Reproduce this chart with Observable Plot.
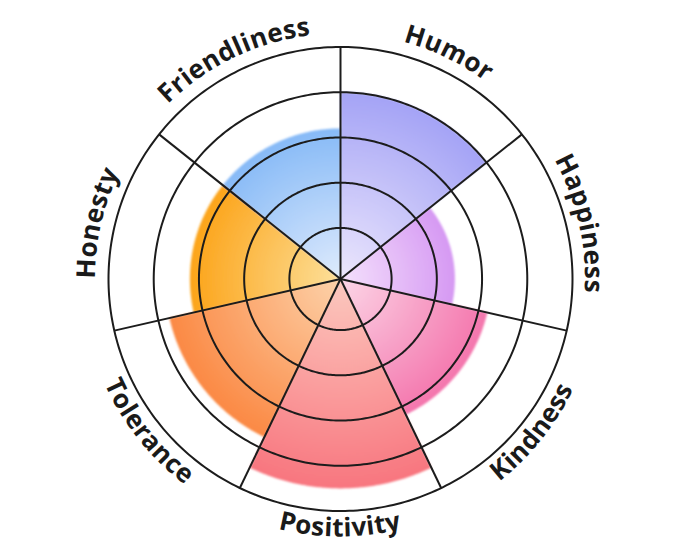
<!DOCTYPE html>
<html><head><meta charset="utf-8">
<script src="https://cdn.jsdelivr.net/npm/d3@7"></script>
<script src="https://cdn.jsdelivr.net/npm/@observablehq/plot@0.6"></script>
<style>
html,body{margin:0;padding:0;background:#fff;}
#chart svg{display:block;}
</style>
</head><body><div id="chart"></div>
<script>
// ---- data ----
const categories = ["Humor","Happiness","Kindness","Positivity","Tolerance","Honesty","Friendliness"];
const values = [4.0, 2.4, 3.2, 4.5, 3.75, 3.2, 3.2];
const ringLevels = [1, 2, 3, 4, 5];
const innerColors = ["#ece7fc","#f4e1fc","#fcd6e7","#fcc9bf","#fdd2aa","#fde09a","#dfebfc"];
const outerColors = ["#a4a3f6","#d699f3","#f476ad","#f8767f","#fb8944","#fca41a","#87baf7"];

// ---- layout ----
const W = 680, H = 557;
const n = categories.length, step = 360 / n;
const OFFSET = 0.13;                  // small inner gap of the radial scale
const rDeg = v => v + OFFSET;         // value -> angular radius on the projection
const lon = theta => 180 - theta;     // clockwise-from-top angle -> longitude
const RMAX = rDeg(5);
const OUTER_PX = 232;
const DOMAIN = RMAX * (H / 2) / OUTER_PX;

function wedge(i) {
  const a0 = i * step, a1 = (i + 1) * step, lat = 90 - rDeg(values[i]), latIn = 90 - 0.002;
  const ring = [];
  for (let k = 0; k <= 100; k++) ring.push([lon(a0 + (a1 - a0) * k / 100), lat]);
  for (let k = 10; k >= 0; k--) ring.push([lon(a0 + (a1 - a0) * k / 10), latIn]);
  ring.push(ring[0]);
  let poly = {type: "Polygon", coordinates: [ring]};
  if (d3.geoArea(poly) > 2 * Math.PI) poly = {type: "Polygon", coordinates: [ring.slice().reverse()]};
  return poly;
}

const rows = categories.map((c, i) => ({category: c, value: values[i], index: i}));

const svg = Plot.plot({
  width: W, height: H, margin: 0,
  projection: {
    type: "azimuthal-equidistant",
    rotate: [0, -90],
    domain: d3.geoCircle().center([0, 90]).radius(DOMAIN)()
  },
  color: {type: "identity"},
  marks: [
    Plot.geo(rows, {geometry: d => wedge(d.index), fill: d => `url(#grad-${d.index})`, stroke: "none"}),
    Plot.geo(ringLevels, {geometry: v => d3.geoCircle().center([0, 90]).radius(rDeg(v)).precision(1)(), fill: "none", stroke: "#1c1c1c", strokeWidth: 2}),
    Plot.link(d3.range(n), {x1: i => lon(i * step), y1: 90 - RMAX, x2: i => lon(i * step), y2: 90, stroke: "#1c1c1c", strokeWidth: 2})
  ]
});
document.getElementById("chart").appendChild(svg);

// ---- gradients, soft edge and curved labels ----
const cx = W / 2, cy = H / 2, pxPerDeg = (H / 2) / DOMAIN;
const root = d3.select(svg);
const defs = root.insert("defs", ":first-child");
rows.forEach((d, i) => {
  const g = defs.append("radialGradient").attr("id", `grad-${i}`)
    .attr("gradientUnits", "userSpaceOnUse")
    .attr("cx", cx).attr("cy", cy).attr("r", rDeg(d.value) * pxPerDeg);
  g.append("stop").attr("offset", "0%").attr("stop-color", innerColors[i]);
  g.append("stop").attr("offset", "100%").attr("stop-color", outerColors[i]);
});
defs.append("filter").attr("id", "soft").attr("x", "-10%").attr("y", "-10%").attr("width", "120%").attr("height", "120%")
  .append("feGaussianBlur").attr("stdDeviation", 0.9);
root.select('g[aria-label="geo"]').attr("filter", "url(#soft)");

const pt = (theta, r) => [cx + r * Math.sin(theta * Math.PI / 180), cy - r * Math.cos(theta * Math.PI / 180)];
const labels = root.append("g").attr("font-family", "'Open Sans', sans-serif").attr("font-weight", 700)
  .attr("font-size", 26).attr("fill", "#1a1a1a");
categories.forEach((c, i) => {
  const mid = (i + 0.5) * step;
  const bottom = mid > 100 && mid < 260;
  const r = bottom ? OUTER_PX + 26 : OUTER_PX + 13;
  let d;
  if (!bottom) { const p0 = pt(mid - 85, r), p1 = pt(mid + 85, r); d = `M${p0}A${r},${r} 0 0 1 ${p1}`; }
  else { const p0 = pt(mid + 85, r), p1 = pt(mid - 85, r); d = `M${p0}A${r},${r} 0 0 0 ${p1}`; }
  defs.append("path").attr("id", `lab-${i}`).attr("d", d);
  labels.append("text").attr("letter-spacing", 0.4)
    .append("textPath").attr("href", `#lab-${i}`).attr("startOffset", "50%").attr("text-anchor", "middle").text(c);
});
</script>
</body></html>
